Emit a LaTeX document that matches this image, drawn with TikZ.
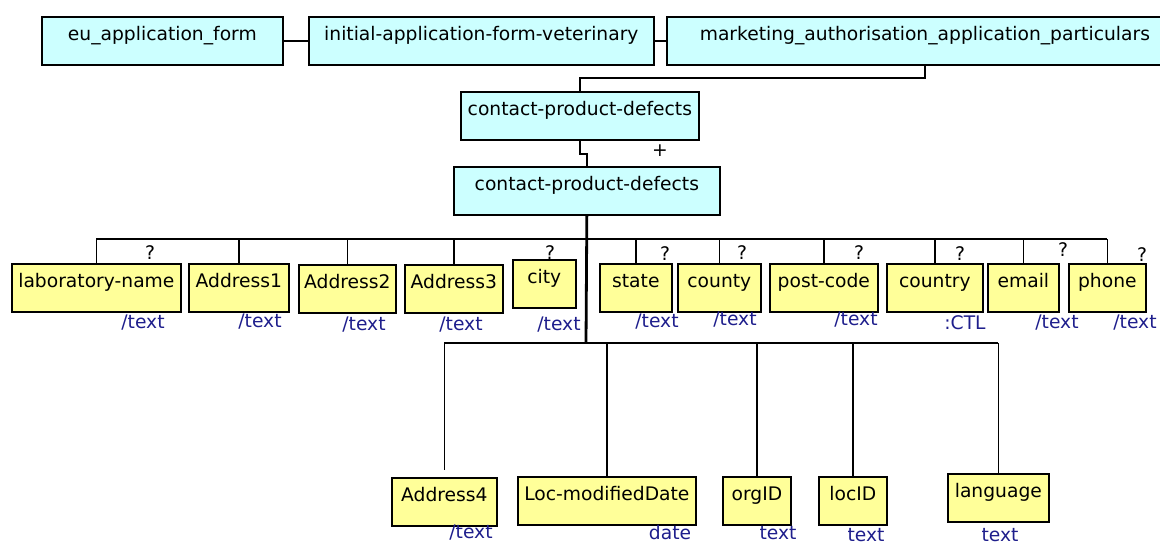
\documentclass[tikz,border=0pt]{standalone}
\usepackage{fontspec}
\setmainfont{DejaVu Sans}
\usetikzlibrary{calc}
\definecolor{cyanfill}{RGB}{204,255,255}
\definecolor{yelfill}{RGB}{255,255,153}
\definecolor{typeblue}{RGB}{30,30,140}
\tikzset{
  boxbase/.style={draw=black, line width=1.7pt, inner sep=0pt, text height=23.5pt, text depth=24.5pt, anchor=north west, font=\fontsize{18.7}{22}\selectfont},
  cbox/.style={boxbase, fill=cyanfill},
  ybox/.style={boxbase, fill=yelfill},
  thinline/.style={draw=black, line width=1.6pt},
  thickline/.style={draw=black, line width=2.8pt},
  typelbl/.style={text=typeblue, inner sep=0pt, font=\fontsize{18.7}{22}\selectfont},
  occ/.style={text=black, inner sep=0pt, font=\fontsize{18.7}{22}\selectfont}
}
\begin{document}
\begin{tikzpicture}[x=1pt,y=-1pt]
\useasboundingbox (0,0) rectangle (1160,544);
% top row
\node[cbox, minimum width=241pt] (eu) at (41,16) {eu\_application\_form};
\node[cbox, minimum width=345pt] (init) at (308,16) {initial-application-form-veterinary};
\node[cbox, minimum width=516pt] (mkt) at (666,16) {marketing\_authorisation\_application\_particulars};
\node[cbox, minimum width=238pt] (c1) at (460,91) {contact-product-defects};
\node[cbox, minimum width=266pt] (c2) at (453,166) {contact-product-defects};
% middle row
\node[ybox, minimum width=169pt] (labname) at (11,263) {laboratory-name};
\node[ybox, minimum width=100pt] (addr1) at (188,263) {Address1};
\node[ybox, minimum width=97pt] (addr2) at (298,264) {Address2};
\node[ybox, minimum width=98pt] (addr3) at (404,264) {Address3};
\node[ybox, minimum width=63pt] (city) at (512,259) {city};
\node[ybox, minimum width=72pt] (state) at (599,263) {state};
\node[ybox, minimum width=83pt] (county) at (677,263) {county};
\node[ybox, minimum width=108pt] (postcode) at (769,263) {post-code};
\node[ybox, minimum width=96pt] (country) at (886,263) {country};
\node[ybox, minimum width=71pt] (email) at (987,263) {email};
\node[ybox, minimum width=77pt] (phone) at (1068,263) {phone};
% bottom row
\node[ybox, minimum width=105pt] (addr4) at (391,477) {Address4};
\node[ybox, minimum width=178pt] (locmod) at (517,476) {Loc-modifiedDate};
\node[ybox, minimum width=68pt] (orgid) at (722,476) {orgID};
\node[ybox, minimum width=68pt] (locid) at (818,476) {locID};
\node[ybox, minimum width=101pt] (language) at (947,473) {language};
% bus coordinates
\coordinate (bus1) at (586,239);
\coordinate (bus2) at (586,343);
% top connectors
\draw[thinline] (eu.east) -- (init.west);
\draw[thinline] (init.east) -- (mkt.west);
\draw[thinline] (mkt.south) |- ([yshift=13pt]c1.north) -- (c1.north);
\draw[thinline] (c1.south) -- ([yshift=-13pt]c1.south) -| (c2.north);
\node[occ] (plus) at (660,151) {+};
% main trunk
\draw[thickline] (c2.south) -- (bus2);
% top bus
\draw[thinline] (labname.north |- bus1) -- (bus1);
\draw[thickline] (bus1) -- (phone.north |- bus1);
\foreach \n in {labname,addr1,addr2,addr3,state,county,postcode,country,email,phone}
  \draw[thinline] (\n.north |- bus1) -- (\n.north);
% bottom bus
\draw[thinline] (addr4.north |- bus2) -- (bus2);
\draw[thickline] (bus2) -- (language.north |- bus2);
\draw[thinline] (addr4.north |- bus2) -- ([yshift=7pt]addr4.north);
\foreach \n in {locmod,orgid,locid,language}
  \draw[thinline] (\n.north |- bus2) -- (\n.north);
% occurrence marks
\node[occ] (q1) at (150,253) {?};
\node[occ] (q2) at (550,253) {?};
\node[occ] (q3) at (665,254) {?};
\node[occ] (q4) at (742,253) {?};
\node[occ] (q5) at (859,253) {?};
\node[occ] (q6) at (960,254) {?};
\node[occ] (q7) at (1063,250) {?};
\node[occ] (q8) at (1142,255) {?};
% type labels
\node[typelbl] (t1) at (143,323) {/text};
\node[typelbl] (t2) at (260,322) {/text};
\node[typelbl] (t3) at (364,325) {/text};
\node[typelbl] (t4) at (461,325) {/text};
\node[typelbl] (t5) at (559,325) {/text};
\node[typelbl] (t6) at (657,322) {/text};
\node[typelbl] (t7) at (735,320) {/text};
\node[typelbl] (t8) at (856,320) {/text};
\node[typelbl] (t9) at (965,323) {:CTL};
\node[typelbl] (t10) at (1057,323) {/text};
\node[typelbl] (t11) at (1135,323) {/text};
\node[typelbl] (t12) at (471,533) {/text};
\node[typelbl] (t13) at (670,533) {date};
\node[typelbl] (t14) at (778,533) {text};
\node[typelbl] (t15) at (866,535) {text};
\node[typelbl] (t16) at (1000,535) {text};
\end{tikzpicture}
\end{document}
